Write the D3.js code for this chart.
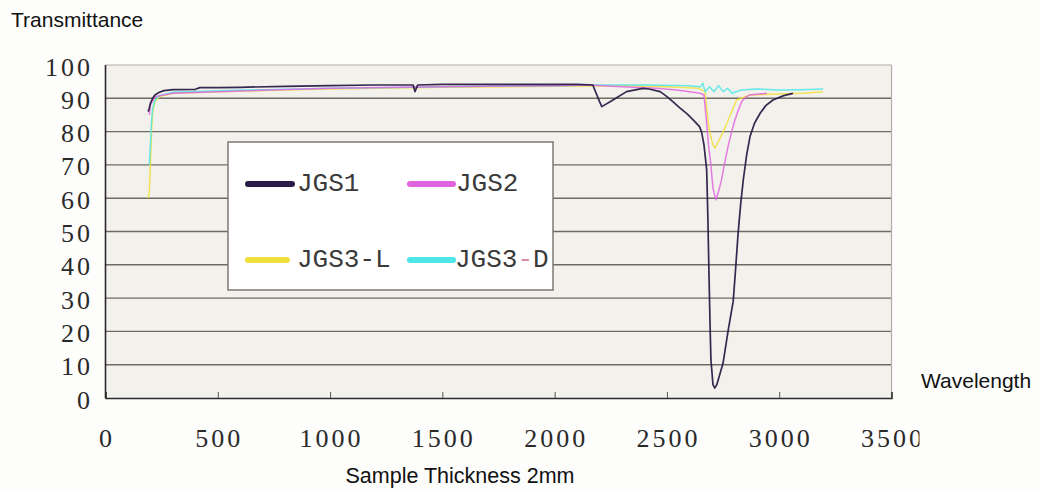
<!DOCTYPE html>
<html>
<head>
<meta charset="utf-8">
<script src="https://cdn.jsdelivr.net/npm/d3@7"></script>
<style>
  html, body { margin: 0; padding: 0; background: #fdfdfc; }
  svg { display: block; }
</style>
</head>
<body>
<svg id="chart" width="1039" height="491"></svg>
<script>
// ---------------- data ----------------
const seriesNames = ["JGS1", "JGS2", "JGS3-L", "JGS3-D"];
const seriesColors = ["#2a1d48", "#e066e0", "#f0df3c", "#4fe6e8"];

const xTicks = [0, 500, 1000, 1500, 2000, 2500, 3000, 3500];
const yTicks = [0, 10, 20, 30, 40, 50, 60, 70, 80, 90, 100];

const wJGS1 = [190,195,200,210,220,240,260,300,400,420,500,600,800,1000,1200,1370,1378,1390,1500,1800,2100,2170,2200,2210,2260,2320,2393,2420,2470,2500,2530,2560,2590,2620,2645,2654,2665,2677,2682,2687,2692,2696,2705,2713,2722,2735,2750,2772,2795,2805,2817,2828,2840,2855,2870,2890,2915,2940,2972,3020,3061];
const tJGS1 = [86,87,88.5,90,91,91.8,92.3,92.6,92.7,93.2,93.2,93.3,93.6,93.8,94,94,92,94,94.2,94.2,94.2,94,89,87.5,89.5,92,93,92.8,92,90.5,88.8,87,85.3,83.3,81.5,80,76,68.5,55,38,22,11.4,4,3,4,7,10.5,20,29,38,49.5,58,65.5,73,78.5,82.5,85.5,87.8,89.5,90.8,91.5];

const wJGS2 = [195,200,220,300,500,1000,1500,2000,2150,2300,2450,2545,2648,2665,2675,2685,2695,2705,2718,2730,2743,2757,2772,2788,2803,2818,2833,2850,2868,2945];
const tJGS2 = [85,88,90.5,91.5,92,93,93.5,93.8,94,93.5,93,92.5,91.5,91,84,76,70.5,63,59.5,62,65.5,70.5,75.5,80,83.5,86.5,89,90.3,91,91.5];

const wJGS3L = [190,195,200,205,210,220,240,300,500,1000,1500,2000,2300,2500,2640,2670,2680,2690,2705,2714,2740,2767,2810,2870,3000,3100,3195];
const tJGS3L = [60,62,70,80,86,89,90.5,91.5,92,92.8,93.3,93.6,93.8,93.5,93,92,85,80,76,75,78.5,82.5,89.5,91,91.3,91.5,92];

const wJGS3D = [195,200,205,210,220,240,300,500,1000,1378,1500,2000,2150,2400,2600,2650,2660,2670,2690,2710,2730,2750,2770,2790,2830,2900,3000,3100,3195];
const tJGS3D = [70,76,83,87,89.5,90.8,91.8,92.3,93,93.3,93.5,93.8,94,94,93.8,93.5,94.5,92,93.5,92,93.8,92,93,91.5,92.5,92.8,92.5,92.6,92.8];

// ---------------- layout ----------------
const svg = d3.select("#chart");
const mLeft = 105.5, mRight = 891.5, mTop = 65, mBottom = 398;

const x = d3.scaleLinear().domain([0, 3500]).range([mLeft, mRight]);
const y = d3.scaleLinear().domain([0, 100]).range([mBottom, mTop]);

// plot background
svg.append("rect")
  .attr("x", mLeft).attr("y", mTop)
  .attr("width", mRight - mLeft).attr("height", mBottom - mTop)
  .attr("fill", "#f3f1eb");

// gridlines
svg.append("g").selectAll("line")
  .data(yTicks.filter(d => d > 0 && d < 100))
  .join("line")
  .attr("x1", mLeft).attr("x2", mRight)
  .attr("y1", d => y(d)).attr("y2", d => y(d))
  .attr("stroke", "#6f6a64").attr("stroke-width", 1.4);

// top & right borders (light)
svg.append("line").attr("x1", mLeft).attr("x2", mRight).attr("y1", mTop).attr("y2", mTop)
  .attr("stroke", "#b3aea6").attr("stroke-width", 1.2);
svg.append("line").attr("x1", mRight).attr("x2", mRight).attr("y1", mTop).attr("y2", mBottom)
  .attr("stroke", "#b3aea6").attr("stroke-width", 1.2);

// x axis (ticks inward)
const xAxis = d3.axisBottom(x).tickValues(xTicks).tickSize(-6).tickFormat("");
const gx = svg.append("g").attr("transform", `translate(0,${mBottom})`).call(xAxis);
gx.select(".domain").attr("stroke", "#2a2a2a").attr("stroke-width", 1.6);
gx.selectAll(".tick line").attr("stroke", "#555").attr("stroke-width", 1);

// y axis line
svg.append("line").attr("x1", mLeft).attr("x2", mLeft).attr("y1", mTop).attr("y2", mBottom)
  .attr("stroke", "#2a2a2a").attr("stroke-width", 1.6);

// tick labels
const tickFont = "'Liberation Serif', 'DejaVu Serif', serif";
svg.append("g").selectAll("text")
  .data(yTicks)
  .join("text")
  .attr("x", 93)
  .attr("y", d => y(d) + 2)
  .attr("text-anchor", "end")
  .attr("dominant-baseline", "central")
  .attr("font-family", tickFont)
  .attr("font-size", 26)
  .attr("letter-spacing", 3)
  .attr("fill", "#2a2a2a")
  .text(d => d);

svg.append("defs").append("clipPath").attr("id", "xlabclip")
  .append("rect").attr("x", 0).attr("y", 400).attr("width", 919.5).attr("height", 60);

svg.append("g").attr("clip-path", "url(#xlabclip)").selectAll("text")
  .data(xTicks)
  .join("text")
  .attr("x", d => x(d) + 1.5)
  .attr("y", 438)
  .attr("text-anchor", "middle")
  .attr("dominant-baseline", "central")
  .attr("font-family", tickFont)
  .attr("font-size", 26)
  .attr("letter-spacing", 3)
  .attr("fill", "#2a2a2a")
  .text(d => d);

// axis titles
const titleFont = "'Liberation Sans', Arial, sans-serif";
svg.append("text").attr("x", 11).attr("y", 27)
  .attr("font-family", titleFont).attr("font-size", 21).attr("fill", "#111")
  .text("Transmittance");
svg.append("text").attr("x", 921).attr("y", 388)
  .attr("font-family", titleFont).attr("font-size", 21).attr("fill", "#111")
  .text("Wavelength");
svg.append("text").attr("x", 460).attr("y", 483).attr("text-anchor", "middle")
  .attr("font-family", titleFont).attr("font-size", 21.5).attr("fill", "#111")
  .text("Sample Thickness 2mm");

// ---------------- series ----------------
const series = [
  { name: seriesNames[0], color: seriesColors[0], w: wJGS1, t: tJGS1 },
  { name: seriesNames[1], color: seriesColors[1], w: wJGS2, t: tJGS2 },
  { name: seriesNames[2], color: seriesColors[2], w: wJGS3L, t: tJGS3L },
  { name: seriesNames[3], color: seriesColors[3], w: wJGS3D, t: tJGS3D }
];

const line = d3.line()
  .x(d => x(d[0]))
  .y(d => y(d[1]));

const drawOrder = [2, 3, 1, 0];
svg.append("g").selectAll("path")
  .data(drawOrder.map(i => series[i]))
  .join("path")
  .attr("d", s => line(s.w.map((w, i) => [w, s.t[i]])))
  .attr("fill", "none")
  .attr("stroke", s => s.color)
  .attr("stroke-width", s => s.name === "JGS1" ? 1.7 : 1.5)
  .attr("stroke-linejoin", "round")
  .attr("opacity", s => s.name === "JGS1" ? 0.95 : 0.85);

// ---------------- legend ----------------
const lg = svg.append("g");
lg.append("rect")
  .attr("x", 228).attr("y", 142).attr("width", 325).attr("height", 148)
  .attr("fill", "#ffffff").attr("stroke", "#7d7a76").attr("stroke-width", 1.5);

const legendPos = [
  { lx1: 248, lx2: 292, tx: 297, ly: 184 },
  { lx1: 410, lx2: 453, tx: 456, ly: 184 },
  { lx1: 248, lx2: 287, tx: 297, ly: 260 },
  { lx1: 410, lx2: 453, tx: 455, ly: 260 }
];

const items = lg.selectAll("g.item")
  .data(series)
  .join("g").attr("class", "item");

items.append("line")
  .attr("x1", (d, i) => legendPos[i].lx1)
  .attr("x2", (d, i) => legendPos[i].lx2)
  .attr("y1", (d, i) => legendPos[i].ly)
  .attr("y2", (d, i) => legendPos[i].ly)
  .attr("stroke", d => d.color)
  .attr("stroke-width", 6)
  .attr("stroke-linecap", "round");

items.append("text")
  .attr("x", (d, i) => legendPos[i].tx)
  .attr("y", (d, i) => legendPos[i].ly)
  .attr("dominant-baseline", "central")
  .attr("font-family", "'Liberation Mono', 'DejaVu Sans Mono', monospace")
  .attr("font-size", 26)
  .attr("fill", "#3a3a3a")
  .each(function(d) {
    const t = d3.select(this);
    if (d.name === "JGS3-D") {
      t.append("tspan").text("JGS3");
      t.append("tspan").attr("fill", "#d98aa8").text("-");
      t.append("tspan").text("D");
    } else {
      t.text(d.name);
    }
  });
</script>
</body>
</html>
